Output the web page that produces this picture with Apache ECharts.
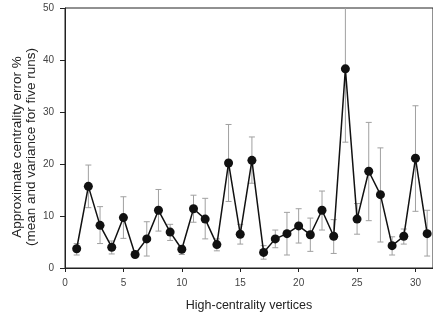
<!DOCTYPE html>
<html>
<head>
<meta charset="utf-8">
<script src="https://cdn.jsdelivr.net/npm/echarts@6/dist/echarts.min.js"></script>
<style>
  html, body { margin: 0; padding: 0; background: #fff; }
  #chart { width: 433px; height: 317px; }
</style>
</head>
<body>
<div id="chart"></div>
<script>
// 数据：顶点编号、均值、误差上下限
const vertices = [1,2,3,4,5,6,7,8,9,10,11,12,13,14,15,16,17,18,19,20,21,22,23,24,25,26,27,28,29,30,31];
const meanError = [3.7,15.7,8.2,4.0,9.7,2.6,5.6,11.1,6.9,3.6,11.4,9.4,4.5,20.2,6.5,20.7,3.0,5.6,6.6,8.1,6.4,11.1,6.1,38.3,9.4,18.6,14.1,4.3,6.1,21.1,6.6];
const errLow = [2.5,11.6,4.7,2.7,5.7,2.3,2.3,7.1,5.3,2.6,8.8,5.6,3.3,12.8,4.6,16.3,1.7,3.9,2.5,4.8,3.2,7.3,2.8,24.2,6.5,9.1,5.0,2.5,4.6,10.9,2.3];
const errHigh = [4.7,19.8,11.8,5.2,13.7,2.9,8.9,15.1,8.4,4.3,14.0,13.4,5.6,27.6,8.4,25.2,4.3,7.3,10.7,11.4,9.6,14.8,9.3,52.4,12.4,28.0,23.1,6.0,7.5,31.2,11.1];
const xTicks = [0,5,10,15,20,25,30];

const chart = echarts.init(document.getElementById('chart'));

const lineData = vertices.map((v, i) => [v, meanError[i]]);
const barData = vertices.map((v, i) => [v, errLow[i], errHigh[i]]);

// 误差线
function renderErrorBar(params, api) {
  const x = api.value(0);
  const lo = api.coord([x, api.value(1)]);
  const hi = api.coord([x, api.value(2)]);
  const cap = 3;
  const style = { stroke: '#a0a0a0', lineWidth: 1 };
  return {
    type: 'group',
    children: [
      { type: 'line', shape: { x1: lo[0], y1: lo[1], x2: hi[0], y2: hi[1] }, style: style },
      { type: 'line', shape: { x1: lo[0] - cap, y1: lo[1], x2: lo[0] + cap, y2: lo[1] }, style: style },
      { type: 'line', shape: { x1: hi[0] - cap, y1: hi[1], x2: hi[0] + cap, y2: hi[1] }, style: style }
    ]
  };
}

const fontFamily = 'Liberation Sans, Arial, sans-serif';
const axisFont = { fontFamily: fontFamily, fontSize: 10, color: '#444' };

chart.setOption({
  animation: false,
  backgroundColor: '#fff',
  grid: {
    left: 65, top: 8, right: -1, bottom: 48,
    show: true, borderColor: '#222', borderWidth: 1
  },
  // y轴标题，单独放置以便对齐
  graphic: [{
    type: 'text',
    x: 24,
    y: 147,
    rotation: Math.PI / 2,
    style: {
      text: 'Approximate centrality error %\n(mean and variance for five runs)',
      font: '13.5px ' + fontFamily,
      fill: '#222',
      align: 'center',
      verticalAlign: 'middle',
      lineHeight: 14
    }
  }],
  xAxis: {
    type: 'value',
    min: 0, max: 31.5, interval: 5,
    name: 'High-centrality vertices',
    nameLocation: 'middle',
    nameGap: 31,
    nameTextStyle: { fontFamily: fontFamily, fontSize: 12.5, color: '#222' },
    axisLine: { show: true, onZero: false, lineStyle: { color: '#222', width: 1 } },
    axisTick: { show: true, length: 4, customValues: xTicks, lineStyle: { color: '#222' } },
    axisLabel: Object.assign({ margin: 10, customValues: xTicks }, axisFont),
    splitLine: { show: false }
  },
  yAxis: {
    type: 'value',
    min: 0, max: 50, interval: 10,
    axisLine: { show: true, lineStyle: { color: '#222', width: 1 } },
    axisTick: { show: true, length: 5, lineStyle: { color: '#222' } },
    axisLabel: Object.assign({ margin: 11 }, axisFont),
    splitLine: { show: false }
  },
  series: [
    {
      type: 'custom',
      clip: true,
      renderItem: renderErrorBar,
      data: barData,
      z: 1
    },
    {
      type: 'line',
      data: lineData,
      symbol: 'circle',
      symbolSize: 9,
      clip: true,
      lineStyle: { color: '#111', width: 1.5 },
      itemStyle: { color: '#111' },
      z: 2
    }
  ]
});
</script>
</body>
</html>
